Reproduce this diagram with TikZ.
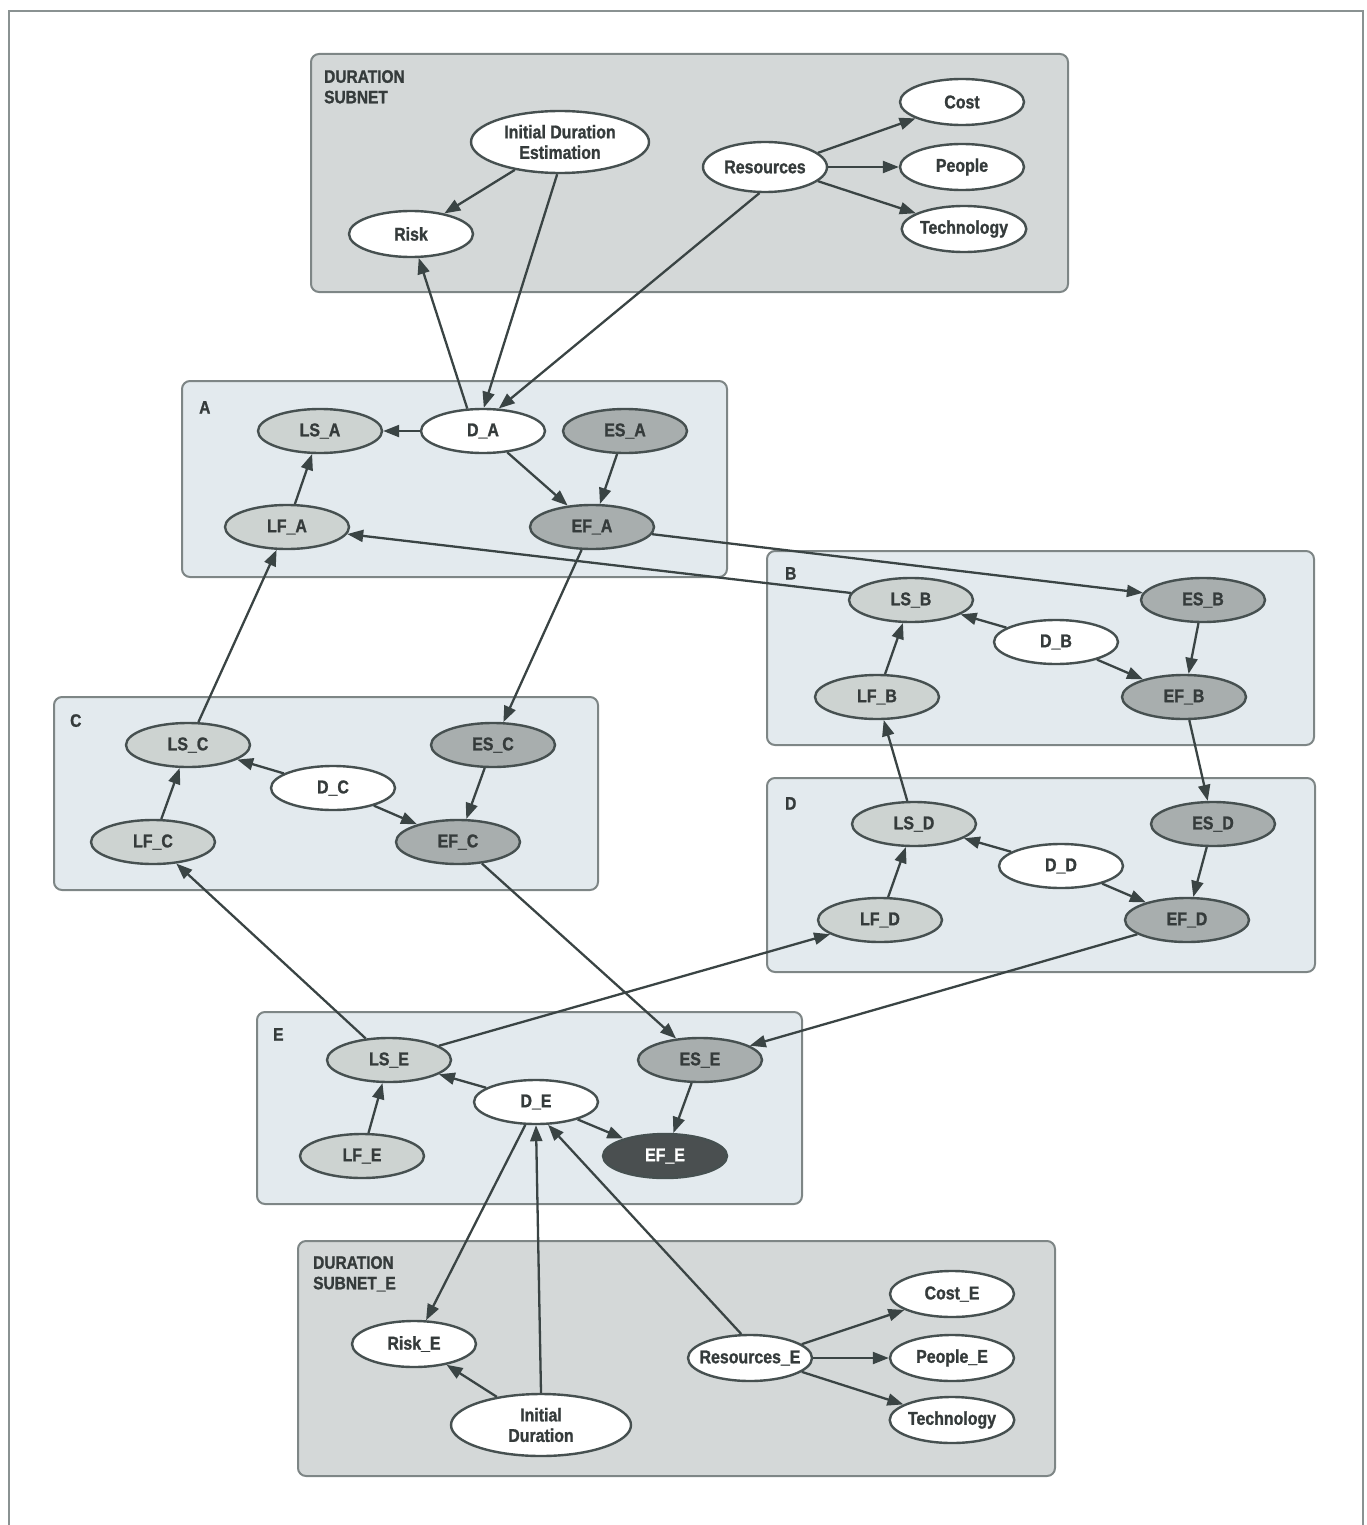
\documentclass[tikz,border=0pt]{standalone}
\usepackage{fontspec}
\setmainfont[FakeStretch=0.86, FakeBold=1.2]{Liberation Sans Bold}
\usetikzlibrary{arrows.meta,shapes.geometric}

\definecolor{framec}{HTML}{8A9292}
\definecolor{subfill}{HTML}{D4D8D8}
\definecolor{actfill}{HTML}{E3EAEE}
\definecolor{panelline}{HTML}{7E8686}
\definecolor{nodeline}{HTML}{465050}
\definecolor{edgec}{HTML}{3A4444}
\definecolor{lightg}{HTML}{CDD3D1}
\definecolor{darkg}{HTML}{A8AEAE}
\definecolor{vdark}{HTML}{4A4F50}
\definecolor{txt}{HTML}{353B3B}

\tikzset{
  var/.style={ellipse, draw=nodeline, line width=2.4pt, minimum width=124pt,
    minimum height=44pt, inner sep=0pt, text=txt, align=center,
    font=\fontsize{18.5}{20.5}\selectfont},
  wvar/.style={var, fill=white},
  lvar/.style={var, fill=lightg},
  dvar/.style={var, fill=darkg},
  xvar/.style={var, fill=vdark, text=white},
  svar/.style={wvar, minimum height=46pt},
  link/.style={draw=edgec, line width=2.3pt, -{Triangle[length=16pt,width=12pt]}},
  subnet/.style={rounded corners=8pt, draw=panelline, line width=2pt, fill=subfill},
  activity/.style={rounded corners=8pt, draw=panelline, line width=2pt, fill=actfill},
  ptitle/.style={anchor=north west, align=left, text=txt, inner sep=0pt,
    font=\fontsize{18}{20.5}\selectfont}
}

\begin{document}
\begin{tikzpicture}[x=1pt,y=-1pt]
\useasboundingbox (0,0) rectangle (1367,1525);

% outer frame
\draw[framec, line width=2pt] (9,1525) -- (9,11) -- (1363,11) -- (1363,1525);

% panels
\draw[subnet]   (311,54)   rectangle (1068,292);
\draw[activity] (182,381)  rectangle (727,577);
\draw[activity] (767,551)  rectangle (1314,745);
\draw[activity] (54,697)   rectangle (598,890);
\draw[activity] (767,778)  rectangle (1315,972);
\draw[activity] (257,1012) rectangle (802,1204);
\draw[subnet]   (298,1241) rectangle (1055,1476);

% panel titles
\node[ptitle] (tsub)  at (324,70)   {DURATION\\SUBNET};
\node[ptitle] (ta)    at (199,401)  {A};
\node[ptitle] (tb)    at (785,567)  {B};
\node[ptitle] (tc)    at (70,714)   {C};
\node[ptitle] (td)    at (785,797)  {D};
\node[ptitle] (te)    at (273,1028) {E};
\node[ptitle] (tsube) at (313,1256) {DURATION\\SUBNET\_E};

% duration subnet
\node[svar, minimum width=178pt, minimum height=62pt] (ide) at (560,142) {Initial Duration\\Estimation};
\node[svar] (risk) at (411,234) {Risk};
\node[svar, minimum height=50pt, fill=white] (res) at (765,167) {Resources};
\node[svar] (cost) at (962,102) {Cost};
\node[svar] (people) at (962,167) {People};
\node[svar] (tech) at (964,229) {Technology};

% activity A
\node[lvar] (lsa) at (320,431) {LS\_A};
\node[wvar] (da)  at (483,431) {D\_A};
\node[dvar] (esa) at (625,431) {ES\_A};
\node[lvar] (lfa) at (287,527) {LF\_A};
\node[dvar] (efa) at (592,527) {EF\_A};

% activity B
\node[lvar] (lsb) at (911,600) {LS\_B};
\node[dvar] (esb) at (1203,600) {ES\_B};
\node[wvar] (db)  at (1056,642) {D\_B};
\node[lvar] (lfb) at (877,697) {LF\_B};
\node[dvar] (efb) at (1184,697) {EF\_B};

% activity C
\node[lvar] (lsc) at (188,745) {LS\_C};
\node[dvar] (esc) at (493,745) {ES\_C};
\node[wvar] (dc)  at (333,788) {D\_C};
\node[lvar] (lfc) at (153,842) {LF\_C};
\node[dvar] (efc) at (458,842) {EF\_C};

% activity D
\node[lvar] (lsd) at (914,824) {LS\_D};
\node[dvar] (esd) at (1213,824) {ES\_D};
\node[wvar] (dd)  at (1061,866) {D\_D};
\node[lvar] (lfd) at (880,920) {LF\_D};
\node[dvar] (efd) at (1187,920) {EF\_D};

% activity E
\node[lvar] (lse) at (389,1060) {LS\_E};
\node[dvar] (ese) at (700,1060) {ES\_E};
\node[wvar] (de)  at (536,1102) {D\_E};
\node[lvar] (lfe) at (362,1156) {LF\_E};
\node[xvar] (efe) at (665,1156) {EF\_E};

% duration subnet of E
\node[svar] (riske) at (414,1344) {Risk\_E};
\node[svar, minimum width=180pt, minimum height=62pt] (inite) at (541,1425) {Initial\\Duration};
\node[svar, inner xsep=-14pt] (rese) at (750,1358) {Resources\_E};
\node[svar] (coste) at (952,1294) {Cost\_E};
\node[svar] (peoplee) at (952,1358) {People\_E};
\node[svar] (teche) at (952,1420) {Technology};

% duration subnet links
\draw[link] (ide) -- (risk);
\draw[link] (res.15) -- (cost);
\draw[link] (res) -- (people);
\draw[link] (res.-15) -- (tech);
\draw[link] (da.125) -- (risk);
\draw[link] (ide.265) -- (da.88);
\draw[link] (res.258) -- (da.55);

% inside A
\draw[link] (da) -- (lsa);
\draw[link] (da) -- (efa);
\draw[link] (esa) -- (efa);
\draw[link] (lfa) -- (lsa);

% inside B
\draw[link] (db) -- (lsb);
\draw[link] (db) -- (efb);
\draw[link] (esb) -- (efb);
\draw[link] (lfb) -- (lsb);

% inside C
\draw[link] (dc) -- (lsc);
\draw[link] (dc) -- (efc);
\draw[link] (esc) -- (efc);
\draw[link] (lfc) -- (lsc);

% inside D
\draw[link] (dd) -- (lsd);
\draw[link] (dd) -- (efd);
\draw[link] (esd) -- (efd);
\draw[link] (lfd) -- (lsd);

% inside E
\draw[link] (de) -- (lse);
\draw[link] (de) -- (efe);
\draw[link] (ese) -- (efe);
\draw[link] (lfe) -- (lse);

% between activities
\draw[link] (efa) -- (esb);
\draw[link] (lsb) -- (lfa);
\draw[link] (efa) -- (esc);
\draw[link] (lsc) -- (lfa);
\draw[link] (efb) -- (esd);
\draw[link] (lsd) -- (lfb);
\draw[link] (efc) -- (ese);
\draw[link] (lse) -- (lfc);
\draw[link] (lse) -- (lfd);
\draw[link] (efd) -- (ese);

% E and its duration subnet
\draw[link] (de.245) -- (riske);
\draw[link] (inite.north) -- (de.south);
\draw[link] (rese.110) -- (de.298);
\draw[link] (inite) -- (riske);
\draw[link] (rese.15) -- (coste);
\draw[link] (rese) -- (peoplee);
\draw[link] (rese.-15) -- (teche);
\end{tikzpicture}
\end{document}
